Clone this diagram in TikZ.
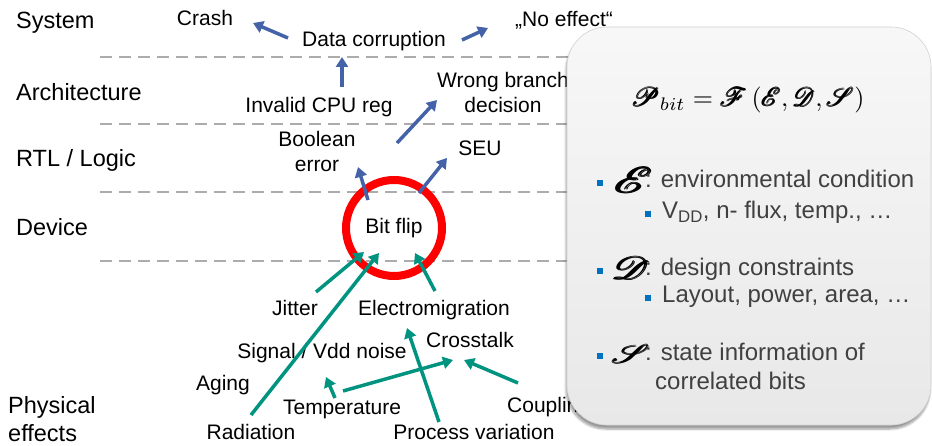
\documentclass[tikz,border=0pt]{standalone}
\usepackage{graphicx}
\usepackage{amsmath}
\usepackage{fontspec}
\setmainfont{Liberation Sans}
\usepackage{mathrsfs}
\usetikzlibrary{arrows.meta,shadows.blur}

\definecolor{arrowblue}{RGB}{68,98,168}
\definecolor{arrowgreen}{RGB}{0,148,128}
\definecolor{bulletblue}{RGB}{0,112,192}
\definecolor{paneltext}{RGB}{64,64,64}
\definecolor{ringred}{RGB}{255,0,0}

% heavy script letters
\newcommand{\hscr}[1]{\pmb{\mathscr{#1}}}
% large, slightly flattened script letter used in the panel bullets
\newcommand{\scrsym}[1]{\scalebox{1}[0.72]{\resizebox{38pt}{!}{$\hscr{#1}$}}}

\begin{document}
\begin{tikzpicture}[x=1pt,y=-1pt,
  lbl/.style={font=\fontsize{21}{25}\selectfont, inner sep=0pt, text height=15pt, text depth=4.5pt},
  mlbl/.style={font=\fontsize{21}{25}\selectfont, inner sep=0pt, align=center},
  ring/.style={font=\fontsize{21}{25}\selectfont, inner sep=0pt, circle, draw=ringred, line width=8pt, minimum size=96pt},
  level/.style={font=\fontsize{23.5}{28}\selectfont, inner sep=0pt, anchor=west, align=left},
  layer/.style={draw=gray!65, line width=2pt, dash pattern=on 12pt off 7pt},
  bluearrow/.style={draw=arrowblue, line width=3.5pt, -{Triangle[length=10pt,width=12pt]}},
  greenarrow/.style={draw=arrowgreen, line width=3.5pt, -{Triangle[length=10pt,width=12pt]}},
  panelbox/.style={rectangle, rounded corners=40pt, draw=gray!35, line width=0.6pt,
    top color=white!97!black, bottom color=white!91!black,
    minimum width=364pt, minimum height=398pt,
    blur shadow={shadow xshift=-1pt, shadow yshift=-4pt, shadow blur steps=6, shadow opacity=40}},
  pbody/.style={font=\fontsize{24}{28}\selectfont, text=paneltext, inner sep=0pt, anchor=west,
    text height=17pt, text depth=5pt},
  psym/.style={inner sep=0pt, anchor=west},
  sq/.style={fill=bulletblue, inner sep=0pt, minimum size=6pt}
]
\useasboundingbox (0,0) rectangle (932,446);

% abstraction levels
\node[level] (lsys)  at (16,23)  {System};
\node[level] (larch) at (16,92)  {Architecture};
\node[level] (lrtl)  at (16,160) {RTL / Logic};
\node[level] (ldev)  at (16,227) {Device};
\node[level] (lphys) at (8,419)  {Physical\\effects};

% level separators
\draw[layer] (100,57)  -- (600,57);
\draw[layer] (100,124) -- (600,124);
\draw[layer] (100,192) -- (600,192);
\draw[layer] (100,261) -- (600,261);

% system / architecture / logic effects
\node[lbl] (crash) at (205,20) {Crash};
\node[lbl] (dc)    at (374,41) {Data corruption};
\node[lbl] (noeff) at (564,21) {„No effect“};
\node[lbl] (cpu)   at (319,107) {Invalid CPU reg};
\node[mlbl] (wbd)  at (503,92) {Wrong branch\\decision};
\node[mlbl] (bool) at (317,151) {Boolean\\error};
\node[lbl] (seu)   at (480,150) {SEU};

% the bit flip
\node[ring] (bitflip) at (394,228) {Bit flip};

% physical causes
\node[lbl] (jitter)    at (295,310) {Jitter};
\node[lbl] (electro)   at (434,310) {Electromigration};
\node[lbl] (cross)     at (470,342) {Crosstalk};
\node[lbl] (noise)     at (322,353) {Signal / Vdd noise};
\node[lbl] (aging)     at (223,385) {Aging};
\node[lbl] (temp)      at (342,409) {Temperature};
\node[lbl, anchor=west] (coupling) at (507,407) {Coupling};
\node[lbl] (radiation) at (251,434) {Radiation};
\node[lbl] (procvar)   at (474,434) {Process variation};

% propagation upwards
\draw[bluearrow] ([shift={(-86,-3)}]dc.center) -- ([shift={(48,3)}]crash.center);
\draw[bluearrow] ([shift={(88,-1)}]dc.center) -- ([shift={(-76,7)}]noeff.center);
\draw[bluearrow] ([shift={(23,-20)}]cpu.center) -- ([shift={(-32,16)}]dc.center);
\draw[bluearrow] ([shift={(80,-8)}]bool.center) -- ([shift={(-66,8)}]wbd.center);
\draw[bluearrow] ([shift={(-26,-28)}]bitflip.center) -- ([shift={(41,16)}]bool.center);
\draw[bluearrow] ([shift={(25,-35)}]bitflip.center) -- ([shift={(-33,8)}]seu.center);

% causes
\draw[greenarrow] ([shift={(21,-18)}]jitter.center) -- ([shift={(-30,24)}]bitflip.center);
\draw[greenarrow] ([shift={(0,-19)}]radiation.center) -- ([shift={(-15,25)}]bitflip.center);
\draw[greenarrow] ([shift={(1,-19)}]electro.center) -- ([shift={(21,25)}]bitflip.center);
\draw[greenarrow] ([shift={(-35,-12)}]procvar.center) -- ([shift={(-27,18)}]electro.center);
\draw[greenarrow] ([shift={(-7,-11)}]temp.center) -- ([shift={(4,24)}]noise.center);
\draw[greenarrow] ([shift={(1,-18)}]temp.center) -- ([shift={(-17,18)}]cross.center);
\draw[greenarrow] ([shift={(11,-24)}]coupling.west) -- ([shift={(-6,18)}]cross.center);

% model panel
\node[panelbox] (panel) at (749,226) {};
\node[inner sep=0pt] (formula) at (748,100)
  {\resizebox{233pt}{!}{$\hscr{P}_{bit} = \hscr{F}\,(\hscr{E},\hscr{D},\hscr{S})$}};

\node[sq] (b1) at (600,183) {};
\node[psym] (s1) at (615,180) {\scrsym{E}};
\node[pbody] (t1) at (645,182) {: environmental condition};
\node[sq] (b1a) at (648,214) {};
\node[pbody] (t1a) at (662,213) {V\textsubscript{DD}, n- flux, temp., …};

\node[sq] (b2) at (600,271) {};
\node[psym] (s2) at (612,268) {\scrsym{D}};
\node[pbody] (t2) at (645,270) {: design constraints};
\node[sq] (b2a) at (648,298) {};
\node[pbody] (t2a) at (662,297) {Layout, power, area, …};

\node[sq] (b3) at (600,356) {};
\node[psym] (s3) at (612,354) {\scrsym{S}};
\node[pbody] (t3) at (645,355) {: state information of};
\node[pbody] (t3b) at (655,383) {correlated bits};
\end{tikzpicture}
\end{document}
